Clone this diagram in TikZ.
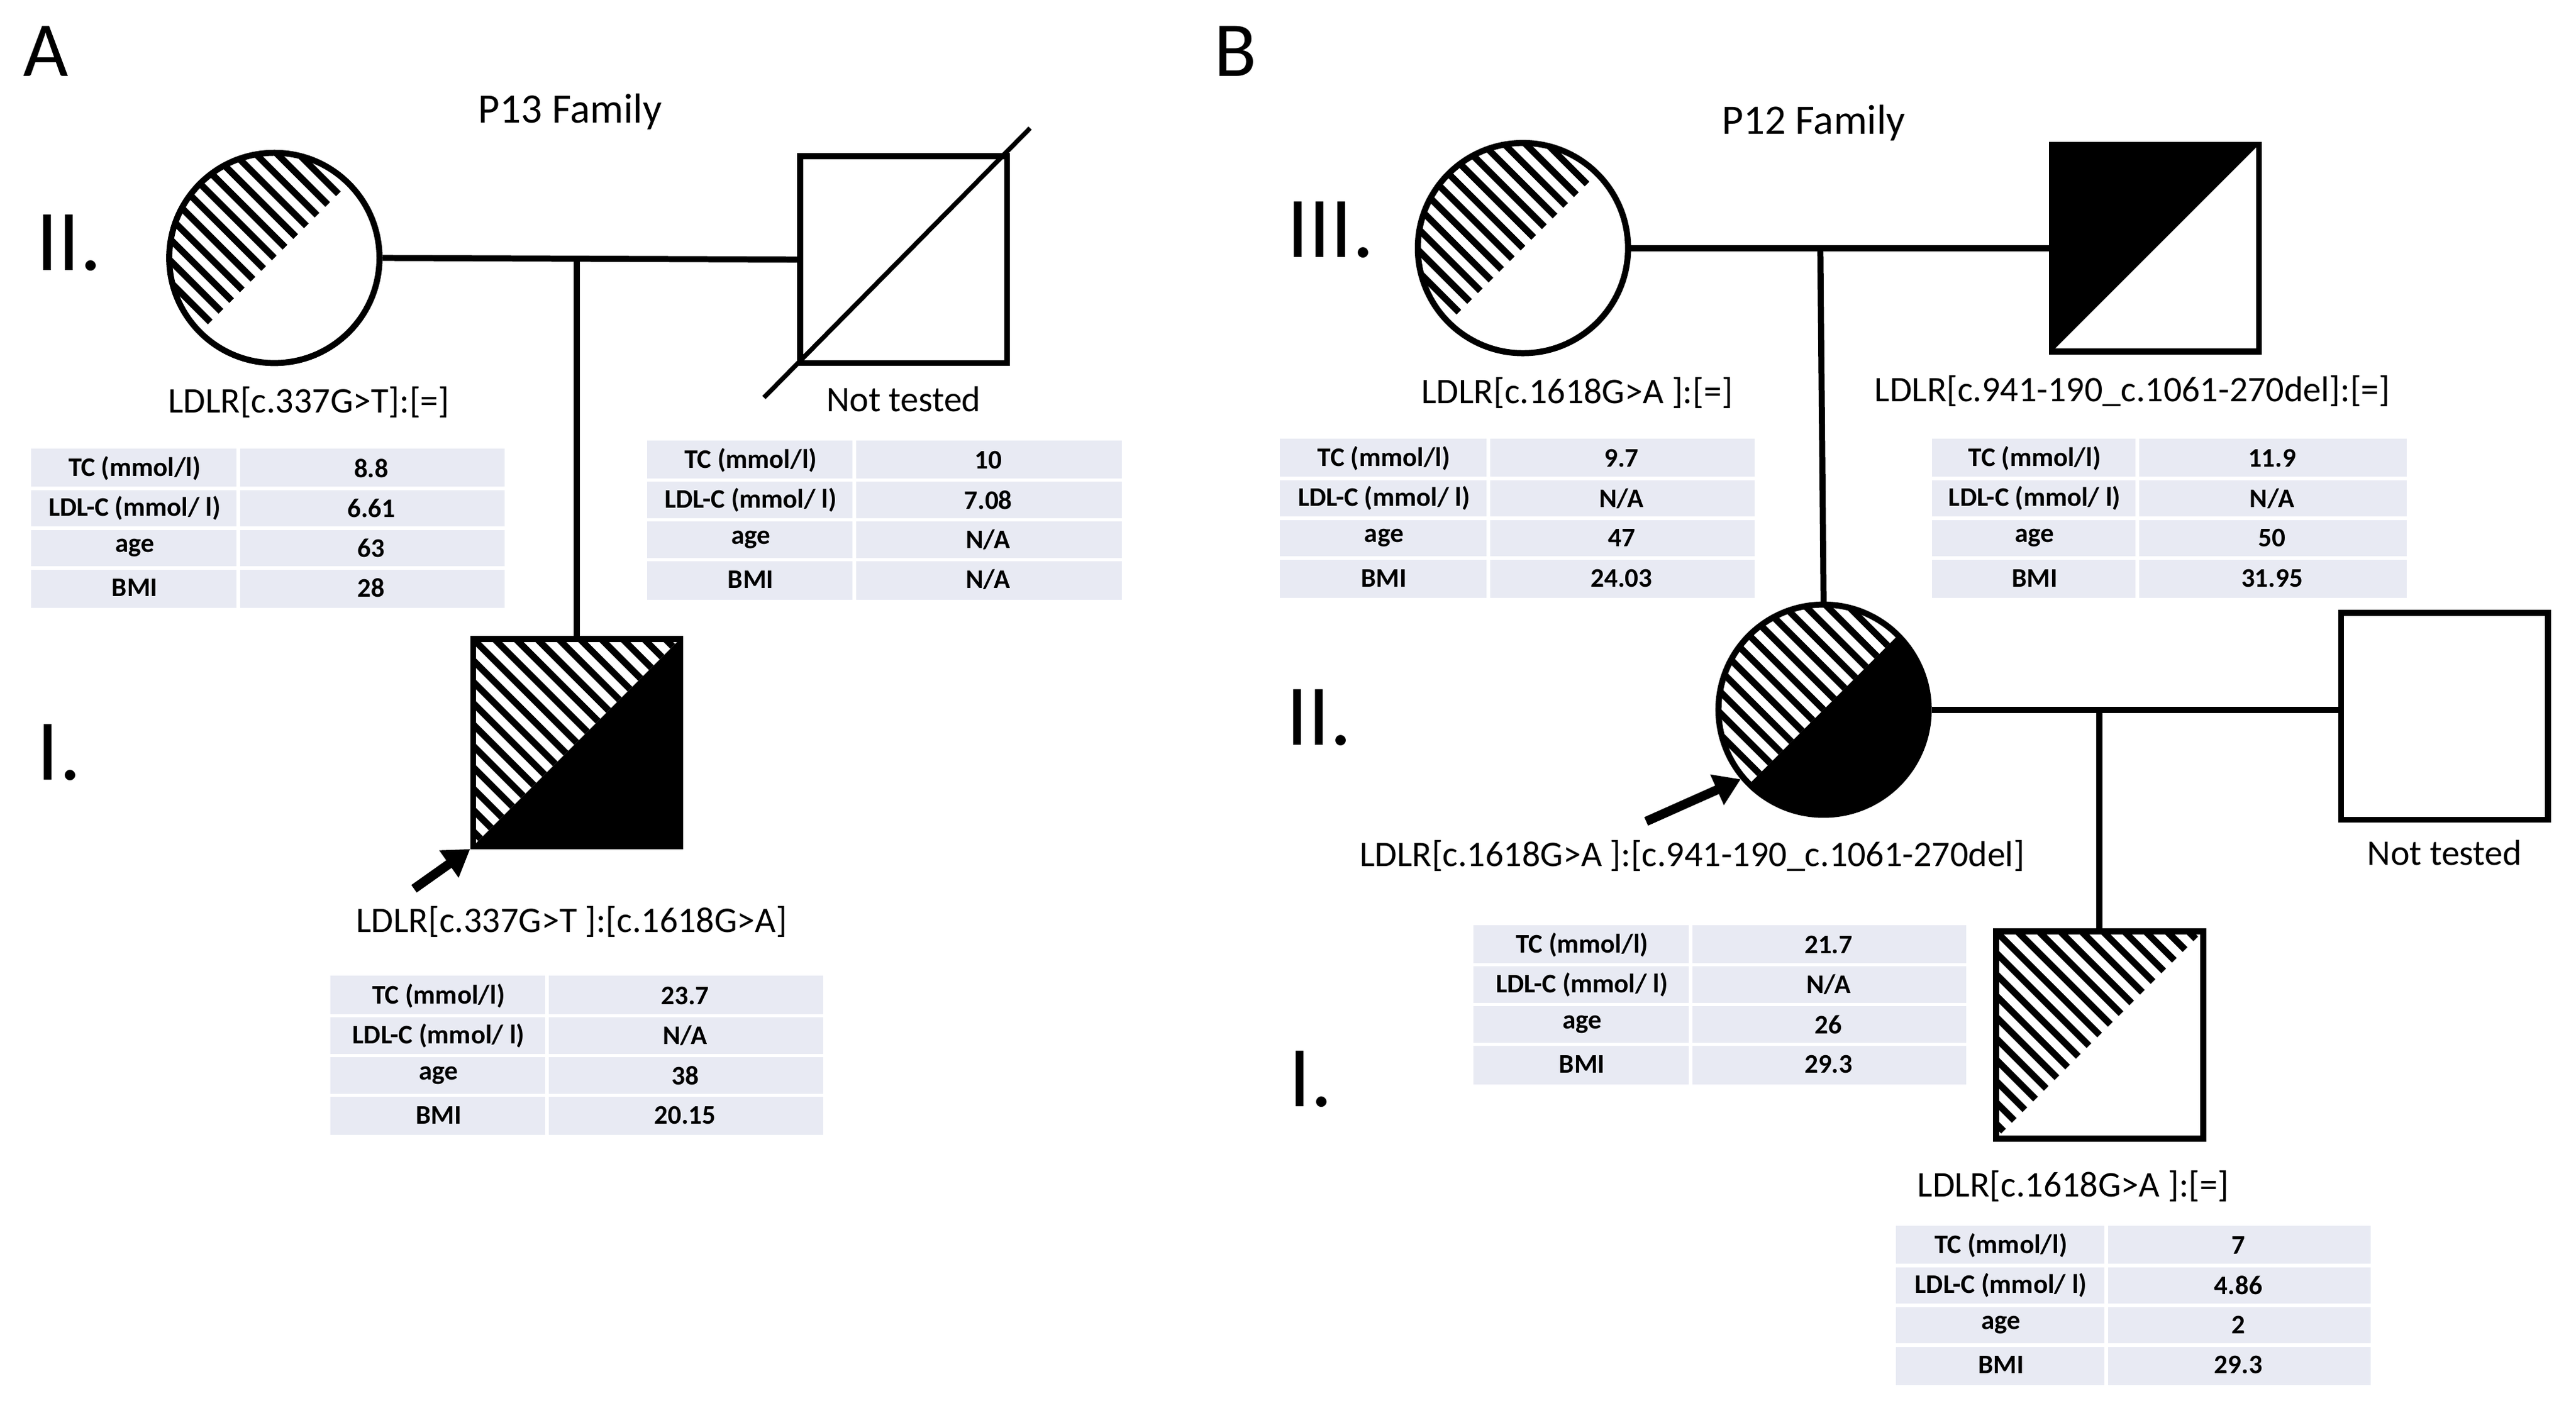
\documentclass[tikz,border=0pt]{standalone}
\usepackage{fontspec}
\setmainfont{Carlito}
\usetikzlibrary{arrows.meta}
\definecolor{tfill}{HTML}{E8EAF3}
\tikzset{
 lw/.style={line width=2.1pt},
 hl/.style={line width=2.3pt},
 lbl/.style={font=\fontsize{12.5}{14}\selectfont, inner sep=0pt},
 tb/.style={font=\fontsize{9.3}{11}\selectfont\bfseries, inner sep=0pt},
 gen/.style={font=\fontsize{30}{32}\selectfont, inner sep=0pt},
 sq/.style={lw, draw, rectangle, minimum size=2.52cm, inner sep=0pt},
 ci/.style={lw, draw, circle, minimum size=2.56cm, inner sep=0pt},
 parrow/.style={line width=3.2pt, -{Triangle[length=9pt,width=11pt]}},
}
\newcommand\hatchlines{\foreach \k in {-169,-156,...,169} \draw[hl] (\k-90,-90)--(\k+90,90);}
\newcommand\ulclip{\clip (-90,90)--(90,-90)--(-90,-90)--cycle;}
\newcommand\lrclip{\clip (-90,90)--(90,-90)--(90,90)--cycle;}
\newcommand\tbl[9]{%
 \fill[tfill] (#2,#3) rectangle (#5,#3+97);
 \foreach \i in {1,2,3} \draw[white,line width=1.2pt] (#2,#3+\i*24.25)--(#5,#3+\i*24.25);
 \draw[white,line width=1.2pt] (#4,#3)--(#4,#3+97);
 \node[tb] (#1-a) at ({(#2+#4)/2},#3+12.1) {TC (mmol/l)};
 \node[tb] (#1-b) at ({(#2+#4)/2},#3+36.4) {LDL-C (mmol/ l)};
 \node[tb] (#1-c) at ({(#2+#4)/2},#3+60.6) {age};
 \node[tb] (#1-d) at ({(#2+#4)/2},#3+84.9) {BMI};
 \node[tb] (#1-e) at ({(#4+#5)/2},#3+12.1) {#6};
 \node[tb] (#1-f) at ({(#4+#5)/2},#3+36.4) {#7};
 \node[tb] (#1-g) at ({(#4+#5)/2},#3+60.6) {#8};
 \node[tb] (#1-h) at ({(#4+#5)/2},#3+84.9) {#9};
}
\begin{document}
\begin{tikzpicture}[x=0.02cm,y=-0.02cm]
\useasboundingbox (0,0) rectangle (1568,860);
% ---------- A ----------
\node[font=\fontsize{27}{30}\selectfont, inner sep=0pt] (lA) at (28,31) {A};
\node[font=\fontsize{14.5}{16}\selectfont, inner sep=0pt] (tA) at (347,68) {P13 Family};
\node[gen] (gA2) at (42,148) {II.};
\node[gen] (gA1) at (36,458) {I.};
% mother
\begin{scope}[shift={(167,157)}]\clip (0,0) circle (64);\ulclip\hatchlines\end{scope}
\node[ci] (am) at (167,157) {};
% father
\node[sq] (af) at (550,158) {};
\draw[line width=1.6pt] (465,242) -- (627,78);
\node[lbl] (afn) at (550,243) {Not tested};
% child
\begin{scope}[shift={(351,452)}]\clip (-63,-63) rectangle (63,63);
 \begin{scope}\ulclip\hatchlines\end{scope}
 \lrclip\fill (-90,-90) rectangle (90,90);\end{scope}
\node[sq] (ac) at (351,452) {};
\draw[lw] (am.east) -- (af.west);
\coordinate (amid) at (351,157);
\draw[lw] (amid) -- (ac.north);
\coordinate (aar) at (252,541);
\draw[parrow] (aar) -- (ac.south west);
\node[lbl] (aml) at (188,245) {LDLR[c.337G>T]:[=]};
\node[lbl] (acl) at (348,561) {LDLR[c.337G>T ]:[c.1618G>A]};
\tbl{ta1}{19}{273}{145}{307}{8.8}{6.61}{63}{28}
\tbl{ta2}{394}{268}{520}{683}{10}{7.08}{N/A}{N/A}
\tbl{ta3}{201}{594}{333}{501}{23.7}{N/A}{38}{20.15}
% ---------- B ----------
\node[font=\fontsize{27}{30}\selectfont, inner sep=0pt] (lB) at (752,31) {B};
\node[font=\fontsize{14.5}{16}\selectfont, inner sep=0pt] (tB) at (1104,75) {P12 Family};
\node[gen] (gB3) at (810,140) {III.};
\node[gen] (gB2) at (803,437) {II.};
\node[gen] (gB1) at (798,657) {I.};
% grandmother
\begin{scope}[shift={(927,151)}]\clip (0,0) circle (64);\ulclip\hatchlines\end{scope}
\node[ci] (bm) at (927,151) {};
% grandfather
\begin{scope}[shift={(1312,151)}]\clip (-63,-63) rectangle (63,63);\ulclip\fill (-90,-90) rectangle (90,90);\end{scope}
\node[sq] (bf) at (1312,151) {};
% proband
\begin{scope}[shift={(1110,432)}]\clip (0,0) circle (64);
 \begin{scope}\ulclip\hatchlines\end{scope}
 \lrclip\fill (-90,-90) rectangle (90,90);\end{scope}
\node[ci] (bp) at (1110,432) {};
% spouse
\node[sq] (bs) at (1488,436) {};
\node[lbl] (bsn) at (1488,519) {Not tested};
% child
\begin{scope}[shift={(1278,630)}]\clip (-63,-63) rectangle (63,63);\ulclip\hatchlines\end{scope}
\node[sq] (bc) at (1278,630) {};
\draw[lw] (bm.east) -- (bf.west);
\coordinate (bmid) at (1108,151);
\draw[lw] (bmid) -- (bp.north);
\coordinate (bsl) at (1424,432);
\draw[lw] (bp.east) -- (bsl);
\coordinate (bmid2) at (1278,432);
\draw[lw] (bmid2) -- (bc.north);
\coordinate (bar) at (1002,500);
\draw[parrow] (bar) -- (bp.220);
\node[lbl] (bml) at (960,239) {LDLR[c.1618G>A ]:[=]};
\node[lbl] (bfl) at (1298,238) {LDLR[c.941-190\_c.1061-270del]:[=]};
\node[lbl] (bpl) at (1030,521) {LDLR[c.1618G>A ]:[c.941-190\_c.1061-270del]};
\node[lbl] (bcl) at (1262,722) {LDLR[c.1618G>A ]:[=]};
\tbl{tb1}{779}{267}{906}{1068}{9.7}{N/A}{47}{24.03}
\tbl{tb2}{1176}{267}{1301}{1465}{11.9}{N/A}{50}{31.95}
\tbl{tb3}{897}{563}{1029}{1197}{21.7}{N/A}{26}{29.3}
\tbl{tb4}{1154}{746}{1282}{1443}{7}{4.86}{2}{29.3}
\end{tikzpicture}
\end{document}
